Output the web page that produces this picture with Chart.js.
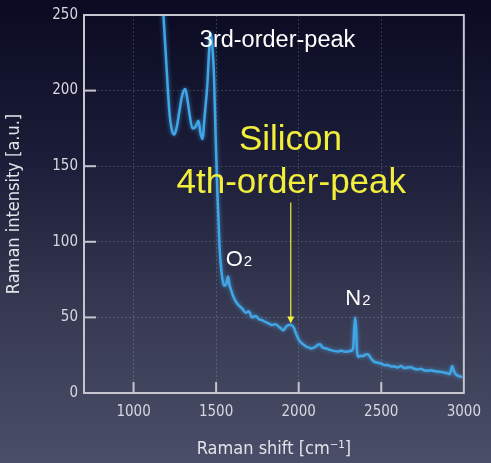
<!DOCTYPE html>
<html>
<head>
<meta charset="utf-8">
<script src="https://cdn.jsdelivr.net/npm/chart.js@4.4.1/dist/chart.umd.min.js"></script>
<style>
    html, body { margin: 0; padding: 0; }
    body {
        width: 491px; height: 463px; overflow: hidden;
        background: linear-gradient(to bottom, #0a0a22 0%, #1c1d38 35%, #353850 65%, #4b4e68 100%);
    }
    #wrap { position: relative; width: 491px; height: 463px; }
</style>
</head>
<body>
<div id="wrap"><canvas id="ramanChart"></canvas></div>
<script>
// Raman shift [cm-1] and intensity [a.u.]
const shifts = [
    1165, 1181, 1200, 1217, 1232, 1247, 1262, 1277, 1295, 1313, 1325, 1337, 1357, 1375, 1393, 1405,
    1417, 1432, 1447, 1457, 1467, 1477, 1487, 1497, 1507, 1514, 1521, 1533, 1547, 1560, 1573, 1580,
    1588, 1600, 1617, 1637, 1657, 1680, 1698, 1718, 1740, 1758, 1780, 1798, 1818, 1837, 1860, 1878,
    1895, 1908, 1925, 1938, 1955, 1968, 1985, 2008, 2030, 2048, 2065, 2078, 2100, 2118, 2129, 2145,
    2168, 2190, 2218, 2240, 2260, 2278, 2300, 2318, 2330, 2336, 2342, 2348, 2353, 2359, 2370, 2389,
    2405, 2419, 2440, 2459, 2480, 2500, 2519, 2540, 2560, 2580, 2599, 2620, 2640, 2659, 2680, 2700,
    2719, 2740, 2760, 2779, 2800, 2820, 2840, 2859, 2880, 2900, 2915, 2922, 2930, 2938, 2950, 2970, 2990
];
const intensity = [
    280, 250, 215, 186, 174, 171, 176, 186, 197, 201, 195, 186, 175, 176, 180, 172,
    168, 185, 204, 225, 238, 230, 210, 170, 135, 116, 96, 80, 71, 72, 77, 72,
    69, 65, 61, 58, 56, 53, 54, 50, 51, 49, 48, 47, 46, 45, 45.5, 44,
    42.5, 41.5, 44, 45, 45, 43.7, 39, 34, 32, 30.5, 30, 29.4, 30.5, 32, 32.3, 30,
    29.4, 28.5, 27.7, 27.5, 28, 27.2, 27.5, 27.9, 30, 42, 50, 42, 28, 24, 24.5, 24.4,
    25.5, 25.7, 22.5, 20.6, 20, 19.5, 18.4, 18.5, 17.5, 17.5, 16.9, 17.8, 16.5, 16.9, 17, 16,
    15.6, 16, 15, 14.7, 15, 14.5, 14.2, 14, 13.5, 13, 12.5, 15, 17.8, 15, 12.5, 11.2, 10.5
];
const xTicks = [1000, 1500, 2000, 2500, 3000];
const yTicks = [0, 50, 100, 150, 200, 250];

// annotations, in data units
const notes = [
    { text: '3rd-order-peak', x: 1872, y: 229, color: '#ffffff', size: 23.5, align: 'center' },
    { text: 'Silicon', x: 1950, y: 161, color: '#f2ee3c', size: 35, align: 'center' },
    { text: '4th-order-peak', x: 1955, y: 132, color: '#f2ee3c', size: 35, align: 'center' }
];
const molecules = [
    { name: 'O', sub: '2', x: 1558, y: 84 },
    { name: 'N', sub: '2', x: 2282, y: 58 }
];
const arrow = { x: 1952, from: 126, to: 46 };

const frameColor = '#c4c5cf';

const framePlugin = {
    id: 'frame',
    afterDraw(chart) {
        const { ctx, chartArea: a, scales } = chart;
        ctx.save();
        ctx.strokeStyle = frameColor;
        ctx.lineWidth = 2;
        ctx.strokeRect(a.left, a.top, a.right - a.left, a.bottom - a.top);
        // inward tick marks
        xTicks.slice(0, -1).forEach(v => {
            const px = scales.x.getPixelForValue(v);
            ctx.beginPath(); ctx.moveTo(px, a.bottom); ctx.lineTo(px, a.bottom - 11); ctx.stroke();
        });
        yTicks.slice(1, -1).forEach(v => {
            const py = scales.y.getPixelForValue(v);
            ctx.beginPath(); ctx.moveTo(a.left, py); ctx.lineTo(a.left + 12, py); ctx.stroke();
        });
        ctx.restore();
    }
};

const notesPlugin = {
    id: 'notes',
    afterDatasetsDraw(chart) {
        const { ctx, scales } = chart;
        ctx.save();
        ctx.textBaseline = 'alphabetic';
        notes.forEach(n => {
            ctx.font = `${n.size}px "Liberation Sans", Arial, sans-serif`;
            ctx.fillStyle = n.color;
            ctx.textAlign = n.align;
            ctx.fillText(n.text, scales.x.getPixelForValue(n.x), scales.y.getPixelForValue(n.y));
        });
        molecules.forEach(m => {
            const px = scales.x.getPixelForValue(m.x);
            const py = scales.y.getPixelForValue(m.y);
            ctx.fillStyle = '#ffffff';
            ctx.textAlign = 'left';
            ctx.font = '22px "Liberation Sans", Arial, sans-serif';
            ctx.fillText(m.name, px, py);
            const w = ctx.measureText(m.name).width;
            ctx.font = '15px "Liberation Sans", Arial, sans-serif';
            ctx.fillText(m.sub, px + w + 1, py);
        });
        // arrow to the 4th-order peak
        const ax = scales.x.getPixelForValue(arrow.x);
        const y1 = scales.y.getPixelForValue(arrow.from);
        const y2 = scales.y.getPixelForValue(arrow.to);
        ctx.strokeStyle = '#f2ee3c';
        ctx.fillStyle = '#f2ee3c';
        ctx.lineWidth = 1.2;
        ctx.beginPath(); ctx.moveTo(ax, y1); ctx.lineTo(ax, y2 - 4); ctx.stroke();
        ctx.beginPath();
        ctx.moveTo(ax, y2); ctx.lineTo(ax - 3.5, y2 - 7); ctx.lineTo(ax + 3.5, y2 - 7); ctx.closePath();
        ctx.fill();
        ctx.restore();
    }
};

const glowPlugin = {
    id: 'glow',
    beforeDatasetsDraw(chart) {
        const ctx = chart.ctx;
        ctx.save();
        ctx.shadowColor = 'rgba(70, 170, 240, 0.7)';
        ctx.shadowBlur = 4;
    },
    afterDatasetsDraw(chart) {
        chart.ctx.restore();
    }
};

const tickFont = { family: '"DejaVu Sans Condensed", "DejaVu Sans", sans-serif', size: 15 };
const gridOpts = {
    color: 'rgba(255, 255, 255, 0.17)',
    lineWidth: 1,
    drawTicks: false
};

new Chart(document.getElementById('ramanChart'), {
    type: 'line',
    data: {
        datasets: [{
            data: shifts.map((s, i) => ({ x: s, y: intensity[i] })),
            borderColor: '#40a6e6',
            borderWidth: 2.5,
            pointRadius: 0,
            cubicInterpolationMode: 'monotone',
            fill: false
        }]
    },
    options: {
        responsive: true,
        maintainAspectRatio: false,
        animation: false,
        layout: { padding: { top: 14, right: 27, left: 0, bottom: 0 } },
        plugins: { legend: { display: false }, tooltip: { enabled: false } },
        scales: {
            x: {
                type: 'linear',
                min: 700,
                max: 3000,
                afterBuildTicks: s => { s.ticks = xTicks.map(v => ({ value: v })); },
                afterFit: s => { s.height = 70; },
                grid: { ...gridOpts },
                border: { display: true, color: frameColor, width: 2, dash: [2, 2] },
                ticks: { color: '#d6d7df', font: tickFont, padding: 10, maxRotation: 0, callback: v => String(v) },
                title: {
                    display: true,
                    text: 'Raman shift [cm\u207B\u00B9]',
                    color: '#e2e3ea',
                    font: { family: '"DejaVu Sans Condensed", "DejaVu Sans", sans-serif', size: 18 },
                    padding: { top: 0, bottom: 3 }
                }
            },
            y: {
                min: 0,
                max: 250,
                afterBuildTicks: s => { s.ticks = yTicks.map(v => ({ value: v })); },
                afterFit: s => { s.width = 84; },
                grid: { ...gridOpts },
                border: { display: true, color: frameColor, width: 2, dash: [2, 2] },
                ticks: { color: '#d6d7df', font: tickFont, padding: 6, callback: v => String(v) },
                title: {
                    display: true,
                    text: 'Raman intensity [a.u.]',
                    color: '#e2e3ea',
                    font: { family: '"DejaVu Sans Condensed", "DejaVu Sans", sans-serif', size: 18 },
                    padding: { top: 4, bottom: 0 }
                }
            }
        }
    },
    plugins: [glowPlugin, notesPlugin, framePlugin]
});
</script>
</body>
</html>
